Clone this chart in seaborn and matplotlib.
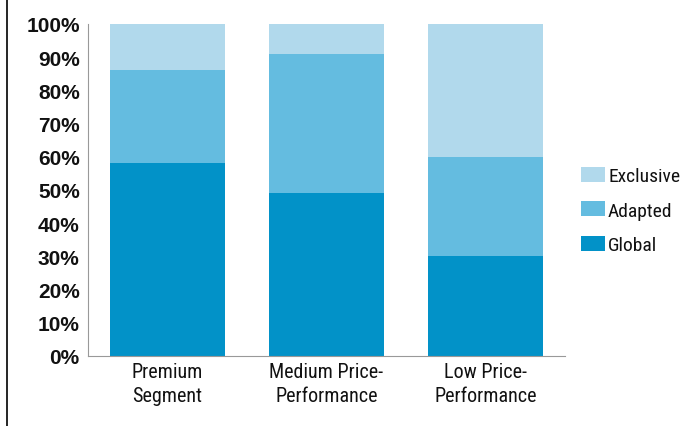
import matplotlib
matplotlib.use("Agg")
import matplotlib.pyplot as plt
import seaborn as sns
import pandas as pd
import numpy as np
from matplotlib.lines import Line2D
from matplotlib.patches import Patch

categories = ["Premium\nSegment", "Medium Price-\nPerformance", "Low Price-\nPerformance"]
global_vals = [58, 49, 30]
adapted_vals = [28, 42, 30]
exclusive_vals = [14, 9, 40]
series_names = ["Global", "Adapted", "Exclusive"]
colors = {"Global": "#0292C8", "Adapted": "#64BCE0", "Exclusive": "#B1D9EC"}
yticks = [0, 10, 20, 30, 40, 50, 60, 70, 80, 90, 100]

sns.set_theme(style="white")
plt.rcParams['font.family'] = ['Liberation Sans', 'DejaVu Sans']

fig = plt.figure(figsize=(6.88, 4.27), dpi=100)
ax = fig.add_axes([0.128, 0.164, 0.693, 0.7775])

g = np.array(global_vals)
a = np.array(adapted_vals)
e = np.array(exclusive_vals)
layers = [("Exclusive", g + a + e), ("Adapted", g + a), ("Global", g)]
for name, vals in layers:
    df = pd.DataFrame({"cat": categories, "val": vals})
    sns.barplot(data=df, x="cat", y="val", color=colors[name], width=0.72,
                saturation=1, ax=ax, edgecolor="none", linewidth=0)

ax.set_xlim(-0.5, 2.5)
ax.set_ylim(0, 100)
ax.set_yticks(yticks)
ax.set_yticklabels([f"{v}%" for v in yticks], fontsize=15, fontweight="bold",
                   color="#111111")
ax.set_xlabel("")
ax.set_ylabel("")
narrow = ['Roboto Condensed', 'PT Sans Narrow', 'DejaVu Sans']
ax.set_xticks(range(len(categories)))
ax.set_xticklabels(categories, fontsize=14.5, family=narrow, color="#111111",
                   linespacing=1.38)
ax.set_xticks([-0.5, 0.5, 1.5, 2.5], minor=True)
ax.tick_params(axis="x", which="major", length=0, pad=4)
ax.tick_params(axis="x", which="minor", direction="in", length=4, width=0.8,
               color="#999999")
ax.tick_params(axis="y", length=0, pad=6)

for s in ["top", "right"]:
    ax.spines[s].set_visible(False)
for s in ["left", "bottom"]:
    ax.spines[s].set_color("#999999")
    ax.spines[s].set_linewidth(0.8)

handles = [Patch(facecolor=colors[n], edgecolor="none") for n in ["Exclusive", "Adapted", "Global"]]
leg = fig.legend(handles, ["Exclusive", "Adapted", "Global"], loc="upper left",
                 bbox_to_anchor=(0.8445, 0.607), frameon=False,
                 borderpad=0, borderaxespad=0,
                 prop={"family": narrow, "size": 14}, handlelength=1.24,
                 handleheight=0.82, handletextpad=0.15, labelspacing=0.83)
for t in leg.get_texts():
    t.set_color("#111111")

fig.add_artist(Line2D([0.0105, 0.0105], [0, 1], color="black", lw=1.2,
                      transform=fig.transFigure))

fig.savefig("out.png", dpi=100)
